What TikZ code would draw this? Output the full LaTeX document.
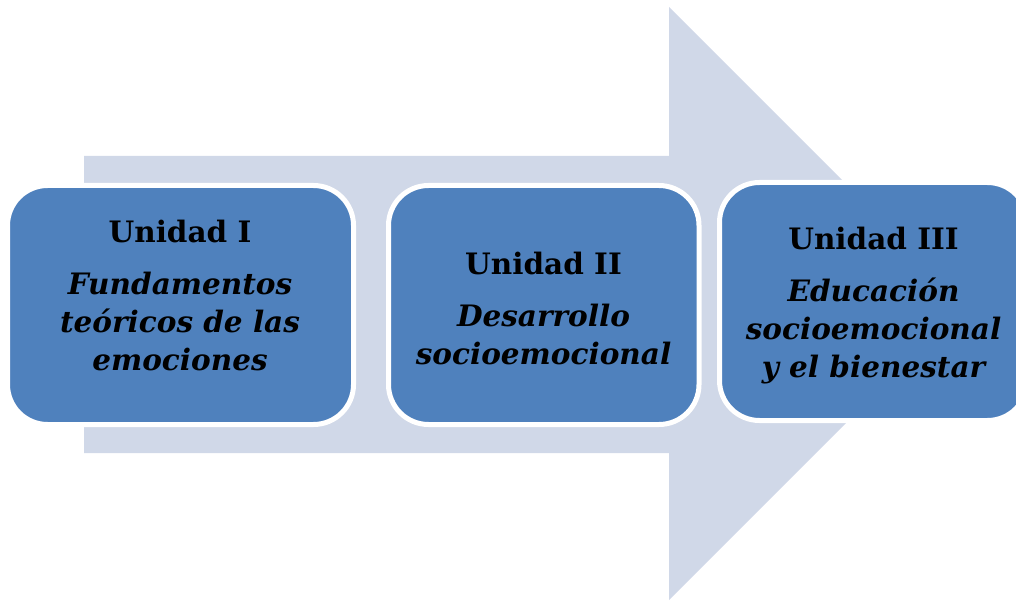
\documentclass[tikz,border=0pt]{standalone}
\usepackage{fontspec}
\setmainfont{DejaVu Serif}
\definecolor{arrowc}{HTML}{D0D8E8}
\definecolor{boxc}{HTML}{4F81BD}
\tikzset{
  unitbox/.style={draw=white, line width=5pt, fill=boxc, rounded corners=40pt, inner sep=0pt},
  unittext/.style={inner sep=0pt, align=center, text=black,
    font=\fontsize{29.5}{38}\selectfont\bfseries},
  bigarrow/.style={fill=arrowc, draw=none}
}
\newcommand{\ttl}[1]{#1\\[14pt]}
\begin{document}
\begin{tikzpicture}[x=1pt,y=-1pt]
\useasboundingbox (0,0) rectangle (1016,601);
\fill[bigarrow] (84,156) -- (669,156) -- (669,7) -- (965.5,303.5) -- (669,600) -- (669,453) -- (84,453) -- cycle;
\node[unitbox, minimum width=346pt, minimum height=239pt] (u1) at (180.5,305) {};
\node[unitbox, minimum width=310.5pt, minimum height=239pt] (u2) at (543.75,305) {};
\node[unitbox, minimum width=308pt, minimum height=238pt] (u3) at (873.5,301.5) {};
\node[unittext] (t1) at (180,296)
  {\ttl{Unidad I}\itshape Fundamentos\\\itshape teóricos de las\\\itshape emociones};
\node[unittext] (t2) at (543.5,309)
  {\ttl{Unidad II}\itshape Desarrollo\\\itshape socioemocional};
\node[unittext] (t3) at (873.5,306)
  {\ttl{Unidad III}\itshape Educación\\\itshape socioemocional\\\itshape y el bienestar};
\end{tikzpicture}
\end{document}
